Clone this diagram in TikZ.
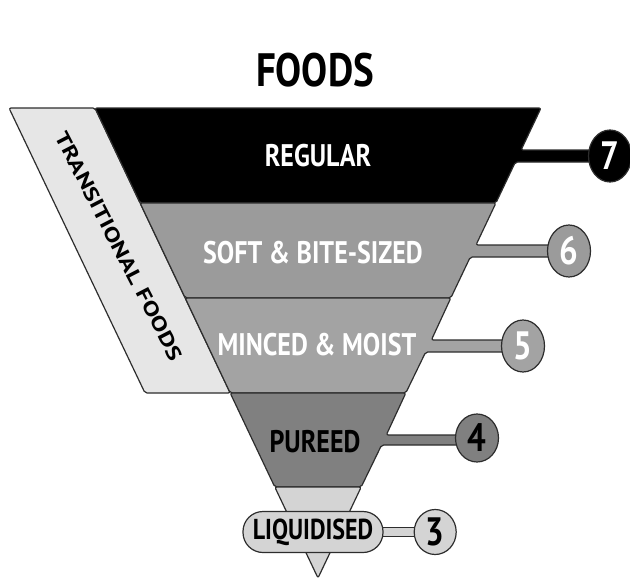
\documentclass[tikz,border=0pt]{standalone}
\usepackage{fontspec}
\setmainfont{PT Sans}
\usetikzlibrary{positioning, shapes.geometric, backgrounds}
\definecolor{edgegray}{RGB}{45,45,45}
\definecolor{softgray}{RGB}{155,155,155}
\definecolor{mincedgray}{RGB}{163,163,163}
\definecolor{pureedgray}{RGB}{128,128,128}
\definecolor{liquidgray}{RGB}{212,212,212}
\definecolor{transgray}{RGB}{230,230,230}
\newcommand{\tallbox}[1]{\scalebox{1}[1.2]{#1}}

\begin{document}
\begin{tikzpicture}[x=1pt, y=-1pt,
    layer/.style={fill=#1, draw=edgegray, line width=1.2pt, rounded corners=2pt, line join=round},
    levelname/.style={font=\fontsize{26}{26}\selectfont\bfseries, text=#1, inner sep=0pt},
    badge/.style={ellipse, draw=edgegray, fill=#1, line width=1.2pt, minimum width=43pt, minimum height=52pt, inner sep=0pt, font=\fontsize{33}{33}\selectfont\bfseries},
    tab/.style={draw=edgegray, line width=1.2pt, double=#1, double distance=8pt, shorten <=-4pt, shorten >=-4pt}
]
\useasboundingbox (0,0) rectangle (630,581);

% Title
\node[font=\fontsize{39}{39}\selectfont\bfseries] (title) at (315,70) {\tallbox{FOODS}};

% Transitional band
\draw[layer=transgray] (9,108) -- (95,108) -- (230.2,393) -- (145,393) -- cycle;
\node[font=\fontsize{20}{20}\selectfont\bfseries, rotate=-62.7] (trans) at (119,246) {\scalebox{1.3}[1]{TRANSITIONAL FOODS}};

% Funnel levels with their tabs
\draw[layer=black] (95,108) -- (541,108) -- (521.1,150) -- (610,150) -- (610,162) -- (515.4,162) -- (495.9,203) -- (140.1,203) -- cycle;
\draw[layer=softgray] (140.1,203) -- (495.9,203) -- (476.0,245) -- (569,245) -- (569,257) -- (470.3,257) -- (450.8,298) -- (185.2,298) -- cycle;
\draw[layer=mincedgray] (185.2,298) -- (450.8,298) -- (431.4,340) -- (523,340) -- (523,352) -- (425.7,352) -- (405.8,393) -- (230.2,393) -- cycle;
\draw[layer=pureedgray] (230.2,393) -- (405.8,393) -- (386.3,435) -- (477,435) -- (477,445) -- (381.6,445) -- (361.2,487) -- (274.8,487) -- cycle;
\draw[layer=liquidgray] (274.8,487) -- (361.2,487) -- (318,578) -- cycle;

% Level names
\node[levelname=white] (regular) at (318,156) {\tallbox{REGULAR}};
\node[levelname=white] (soft) at (313,253) {\tallbox{SOFT \& BITE-SIZED}};
\node[levelname=white] (minced) at (317,345) {\tallbox{MINCED \& MOIST}};
\node[levelname=black] (pureed) at (315,442) {\tallbox{PUREED}};
\node[levelname=black, font=\fontsize{24}{24}\selectfont\bfseries, draw=edgegray, fill=liquidgray, line width=1.2pt, rounded corners=20pt, minimum width=140pt, minimum height=41pt] (liq) at (313,532) {\tallbox{LIQUIDISED}};

% Level numbers
\node[badge=black, text=white] (c7) at (610,156) {\tallbox{7}};
\node[badge=softgray, text=white] (c6) at (569,251) {\tallbox{6}};
\node[badge=mincedgray, text=white] (c5) at (523,346) {\tallbox{5}};
\node[badge=pureedgray, minimum height=48pt] (c4) at (477,438) {\tallbox{4}};
\node[badge=liquidgray, minimum width=42pt, minimum height=45pt, right=30pt of liq] (c3) {\tallbox{3}};

\begin{scope}[on background layer]
\fill[white] (0,0) rectangle (630,581);
\draw[tab=liquidgray] (liq.east) -- (c3.west);
\end{scope}

\end{tikzpicture}
\end{document}
